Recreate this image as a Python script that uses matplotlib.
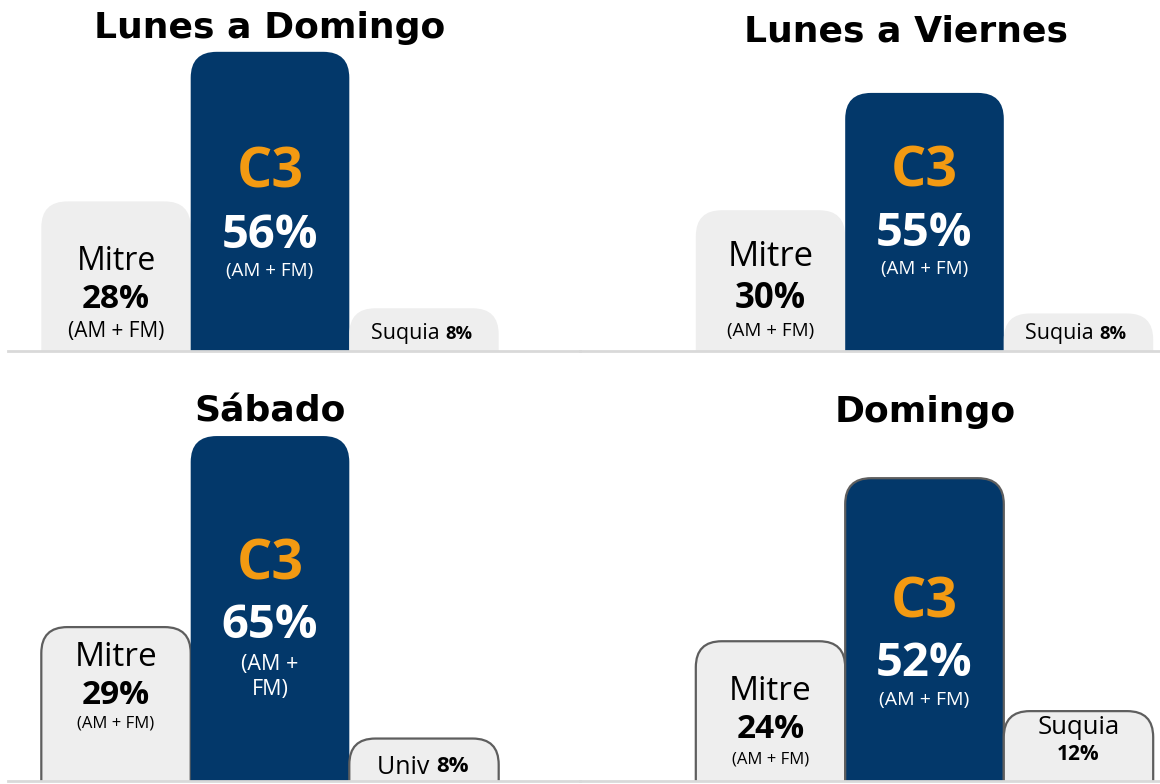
import matplotlib.pyplot as plt
from matplotlib.patches import FancyBboxPatch

W, H = 1160, 784

# data
titles = ["Lunes a Domingo", "Lunes a Viernes", "Sábado", "Domingo"]
mitre_pct = [28, 30, 29, 24]
c3_pct = [56, 55, 65, 52]
third_name = ["Suquia", "Suquia", "Univ", "Suquia"]
third_pct = [8, 8, 8, 12]

NAVY = "#03386A"
ORANGE = "#F39A12"
GRAY = "#EEEEEE"
EDGE = "#5E5E5E"
LINE = "#D9D9D9"
FONT = "Open Sans"

STEP = 154.0   # px between bar centres
RAD = 26.0     # corner radius, px

# px boxes: left, right, top, baseline, C3 centre x, ylim top
layout = [
    (8, 580, 0, 351, 270, 65.7),
    (580, 1160, 0, 351, 924.5, 74.8),
    (8, 580, 392, 781, 270, 73.3),
    (580, 1160, 392, 781, 924.5, 66.8),
]
title_y = [28, 32, 412, 412]
title_x = [270, 906, 270, 925]
edged = [(False, False), (False, False), (True, False), (True, True)]

# font sizes per panel: mitre name, mitre pct, mitre (AM+FM), c3 (AM+FM)
mitre_sz = [23, 25, 24, 24]
mitre_pct_sz = [24, 25, 24, 24]
mitre_am_sz = [15, 13.5, 12, 12]
c3_am_sz = [13.5, 13.5, 15.5, 14]


def px(v):
    return v * 0.72  # px -> points at dpi 100


def label(ax, x, dy, s, size, color="black", weight="normal", dx=0, ha="center"):
    ax.annotate(s, xy=(x, 0), xytext=(px(dx), px(dy)), textcoords="offset points",
                ha=ha, va="center", fontsize=size, color=color, weight=weight,
                family=FONT, annotation_clip=False)


def rbar(ax, x, h, w, color, edge, ytop, axh):
    yupp = ytop / axh
    xupp = 1.0 / STEP
    r = RAD * xupp
    extra = RAD * yupp * 2
    p = FancyBboxPatch((x - w / 2, -extra), w, h + extra,
                       boxstyle=f"round,pad=0,rounding_size={r}",
                       mutation_aspect=yupp / xupp,
                       facecolor=color,
                       edgecolor=EDGE if edge else "none",
                       linewidth=1.6 if edge else 0)
    p.set_clip_on(True)
    ax.add_patch(p)


fig = plt.figure(figsize=(W / 100, H / 100), dpi=100)

for i, (x0, x1, yt, yb, cx, ytop) in enumerate(layout):
    ax = fig.add_axes([x0 / W, (H - yb) / H, (x1 - x0) / W, (yb - yt) / H])
    axh = yb - yt
    ax.set_xlim(1 - (cx - x0) / STEP, 1 + (x1 - cx) / STEP)
    ax.set_ylim(0, ytop)
    ax.axis("off")
    ax.axhline(0, color=LINE, lw=2, clip_on=False, zorder=5)

    gray_edge, c3_edge = edged[i]
    rbar(ax, 0, mitre_pct[i], 0.97, GRAY, gray_edge, ytop, axh)
    rbar(ax, 1, c3_pct[i], 1.03, NAVY, c3_edge, ytop, axh)
    rbar(ax, 2, third_pct[i], 0.97, GRAY, gray_edge, ytop, axh)

    fig.text(title_x[i] / W, 1 - title_y[i] / H, titles[i], ha="center", va="center",
             fontsize=26, weight="bold", family="DejaVu Sans")

    # Mitre
    m_dy = [(89, 51, 20), (94, 52, 20), (123, 86, 57), (89, 51, 22)][i]
    label(ax, 0, m_dy[0], "Mitre", mitre_sz[i])
    label(ax, 0, m_dy[1], f"{mitre_pct[i]}%", mitre_pct_sz[i], weight="bold")
    label(ax, 0, m_dy[2], "(AM + FM)", mitre_am_sz[i])

    # C3
    c_dy = [(178, 116, 80), (179, 118, 82), (216, 155, 104), (178, 118, 81)][i]
    label(ax, 1, c_dy[0], "C3", 40, color=ORANGE, weight="bold")
    label(ax, 1, c_dy[1], f"{c3_pct[i]}%", 34, color="white", weight="bold")
    am = "(AM +\nFM)" if i == 2 else "(AM + FM)"
    label(ax, 1, c_dy[2], am, c3_am_sz[i], color="white")

    # third bar
    if i == 3:
        label(ax, 2, 53, third_name[i], 18.5)
        label(ax, 2, 27, f"{third_pct[i]}%", 15, weight="bold")
    elif i == 2:
        label(ax, 2, 14, third_name[i] + " ", 18, dx=12, ha="right")
        label(ax, 2, 14, f"{third_pct[i]}%", 16, weight="bold", dx=12, ha="left")
    else:
        label(ax, 2, 17, third_name[i] + " ", 15.4, dx=21, ha="right")
        label(ax, 2, 17, f"{third_pct[i]}%", 13.2, weight="bold", dx=21, ha="left")

fig.savefig("out.png", dpi=100, facecolor="white")
